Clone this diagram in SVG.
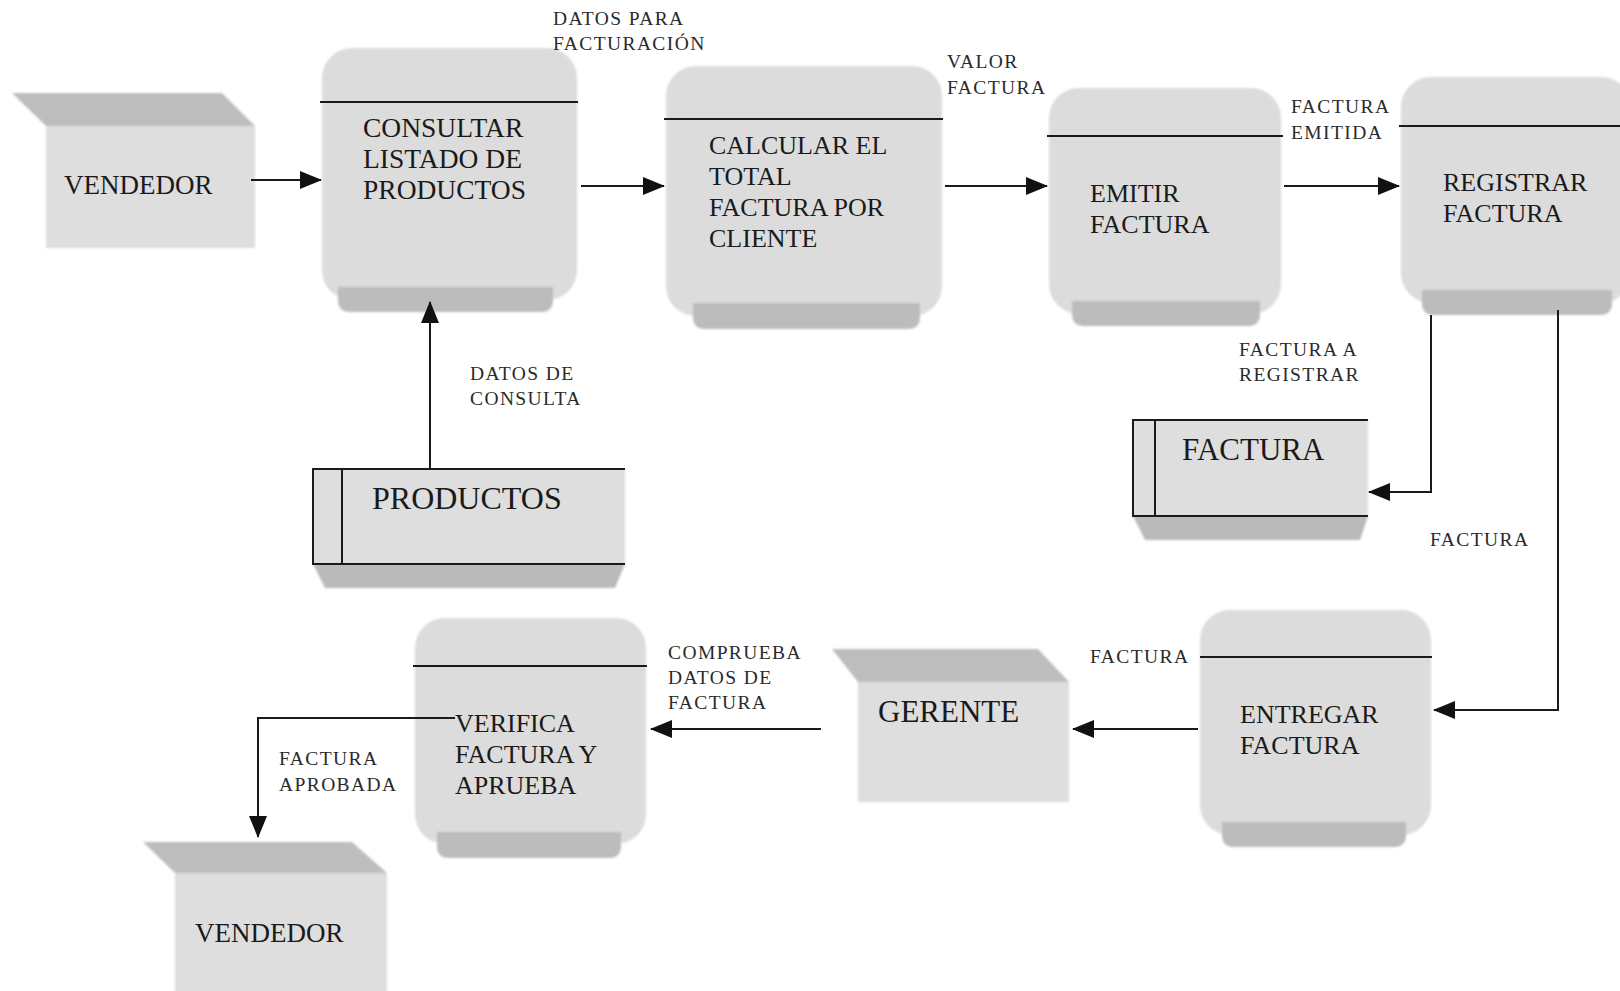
<svg xmlns="http://www.w3.org/2000/svg" width="1620" height="991" viewBox="0 0 1620 991">
<defs>
<style>
.body{fill:#dcdcdc;}
.band{fill:#bcbcbc;}
.topface{fill:#bdbdbd;}
.front{fill:#dedede;}
.store{fill:#dedede;}
.storeshadow{fill:#bababa;}
.sl{stroke:#1a1a1a;stroke-width:2;fill:none;}
.div{stroke:#1a1a1a;stroke-width:2;}
.t{font-family:"Liberation Serif","Times New Roman",serif;font-size:26px;fill:#1a1a1a;}
.big{font-family:"Liberation Serif","Times New Roman",serif;fill:#1a1a1a;}
.lbl{font-family:"Liberation Serif","Times New Roman",serif;font-size:19.5px;letter-spacing:1.4px;fill:#2a2a2a;}
.c{stroke:#1a1a1a;stroke-width:2;fill:none;marker-end:url(#ah);}
</style>
<marker id="ah" markerUnits="userSpaceOnUse" markerWidth="22" markerHeight="18" refX="21" refY="9" orient="auto">
<path d="M0,0 L22,9 L0,18 Z" fill="#111"/>
</marker>
<filter id="soft" x="-5%" y="-5%" width="110%" height="110%">
<feGaussianBlur stdDeviation="1.2"/>
</filter>
</defs>
<rect width="1620" height="991" fill="#ffffff"/>

<g id="vendedor1">
<g filter="url(#soft)">
<polygon class="topface" points="12,93 222,93 255,126 46,126"/>
<rect class="front" x="46" y="126" width="209" height="122"/>
</g>
<text class="big" x="64" y="194" style="font-size:27px">VENDEDOR</text>
</g>

<g id="consultar">
<g filter="url(#soft)">
<rect class="body" x="322" y="48" width="255" height="252" rx="30"/>
<path class="band" d="M338,287 H553 V300 Q553,312 541,312 H350 Q338,312 338,300 Z"/>
</g>
<line class="div" x1="320" y1="102" x2="578" y2="102"/>
<text class="big" x="363" y="137" style="font-size:27.5px">CONSULTAR</text>
<text class="big" x="363" y="168" style="font-size:27.5px">LISTADO DE</text>
<text class="big" x="363" y="199" style="font-size:27.5px">PRODUCTOS</text>
</g>

<g id="calcular">
<g filter="url(#soft)">
<rect class="body" x="666" y="66" width="276" height="250" rx="30"/>
<path class="band" d="M693,303 H920 V317 Q920,329 908,329 H705 Q693,329 693,317 Z"/>
</g>
<line class="div" x1="664" y1="119" x2="943" y2="119"/>
<text class="t" x="709" y="154">CALCULAR EL</text>
<text class="t" x="709" y="185">TOTAL</text>
<text class="t" x="709" y="216">FACTURA POR</text>
<text class="t" x="709" y="247">CLIENTE</text>
</g>

<g id="emitir">
<g filter="url(#soft)">
<rect class="body" x="1049" y="88" width="232" height="226" rx="30"/>
<path class="band" d="M1072,301 H1260 V314 Q1260,326 1248,326 H1084 Q1072,326 1072,314 Z"/>
</g>
<line class="div" x1="1047" y1="136" x2="1283" y2="136"/>
<text class="t" x="1090" y="202">EMITIR</text>
<text class="t" x="1090" y="233">FACTURA</text>
</g>

<g id="registrar">
<g filter="url(#soft)">
<rect class="body" x="1401" y="77" width="230" height="226" rx="30"/>
<path class="band" d="M1422,290 H1612 V303 Q1612,315 1600,315 H1434 Q1422,315 1422,303 Z"/>
</g>
<line class="div" x1="1399" y1="126" x2="1620" y2="126"/>
<text class="t" x="1443" y="191">REGISTRAR</text>
<text class="t" x="1443" y="222">FACTURA</text>
</g>

<g id="productos">
<g filter="url(#soft)">
<polygon class="storeshadow" points="313,564 625,564 615,588 325,588"/>
<rect class="store" x="313" y="469" width="312" height="95"/>
</g>
<path class="sl" d="M625,469 H313 V564 H625 M342,469 V564"/>
<text class="big" x="372" y="509" style="font-size:32px">PRODUCTOS</text>
</g>

<g id="factura-store">
<g filter="url(#soft)">
<polygon class="storeshadow" points="1133,516 1368,516 1360,540 1145,540"/>
<rect class="store" x="1133" y="420" width="235" height="96"/>
</g>
<path class="sl" d="M1368,420 H1133 V516 H1368 M1155,420 V516"/>
<text class="big" x="1182" y="460" style="font-size:31px">FACTURA</text>
</g>

<g id="entregar">
<g filter="url(#soft)">
<rect class="body" x="1200" y="610" width="231" height="225" rx="30"/>
<path class="band" d="M1222,822 H1406 V835 Q1406,847 1394,847 H1234 Q1222,847 1222,835 Z"/>
</g>
<line class="div" x1="1200" y1="657" x2="1432" y2="657"/>
<text class="t" x="1240" y="723">ENTREGAR</text>
<text class="t" x="1240" y="754">FACTURA</text>
</g>

<g id="gerente">
<g filter="url(#soft)">
<polygon class="topface" points="832,649 1038,649 1069,682 858,682"/>
<rect class="front" x="858" y="682" width="211" height="120"/>
</g>
<text class="big" x="878" y="722" style="font-size:31px">GERENTE</text>
</g>

<g id="verifica">
<g filter="url(#soft)">
<rect class="body" x="415" y="618" width="231" height="226" rx="30"/>
<path class="band" d="M437,832 H621 V846 Q621,858 609,858 H449 Q437,858 437,846 Z"/>
</g>
<line class="div" x1="413" y1="666" x2="647" y2="666"/>
<text class="t" x="455" y="732">VERIFICA</text>
<text class="t" x="455" y="763">FACTURA Y</text>
<text class="t" x="455" y="794">APRUEBA</text>
</g>

<g id="vendedor2">
<g filter="url(#soft)">
<polygon class="topface" points="143,842 352,842 387,873 175,873"/>
<rect class="front" x="175" y="873" width="212" height="125"/>
</g>
<text class="big" x="195" y="942" style="font-size:27px">VENDEDOR</text>
</g>

<g id="connectors">
<line class="c" x1="251" y1="180" x2="321" y2="180"/>
<line class="c" x1="581" y1="186" x2="664" y2="186"/>
<line class="c" x1="945" y1="186" x2="1047" y2="186"/>
<line class="c" x1="1284" y1="186" x2="1399" y2="186"/>
<line class="c" x1="430" y1="469" x2="430" y2="302"/>
<polyline class="c" points="1431,315 1431,492 1369,492"/>
<polyline class="c" points="1558,310 1558,710 1434,710"/>
<line class="c" x1="1198" y1="729" x2="1073" y2="729"/>
<line class="c" x1="821" y1="729" x2="651" y2="729"/>
<polyline class="c" points="455,718 258,718 258,837"/>
</g>

<g id="labels">
<text class="lbl" x="553" y="25">DATOS PARA</text>
<text class="lbl" x="553" y="50">FACTURACIÓN</text>
<text class="lbl" x="947" y="68">VALOR</text>
<text class="lbl" x="947" y="94">FACTURA</text>
<text class="lbl" x="1291" y="113">FACTURA</text>
<text class="lbl" x="1291" y="139">EMITIDA</text>
<text class="lbl" x="1239" y="356">FACTURA A</text>
<text class="lbl" x="1239" y="381">REGISTRAR</text>
<text class="lbl" x="470" y="380">DATOS DE</text>
<text class="lbl" x="470" y="405">CONSULTA</text>
<text class="lbl" x="1430" y="546">FACTURA</text>
<text class="lbl" x="1090" y="663">FACTURA</text>
<text class="lbl" x="668" y="659">COMPRUEBA</text>
<text class="lbl" x="668" y="684">DATOS DE</text>
<text class="lbl" x="668" y="709">FACTURA</text>
<text class="lbl" x="279" y="765">FACTURA</text>
<text class="lbl" x="279" y="791">APROBADA</text>
</g>
</svg>
